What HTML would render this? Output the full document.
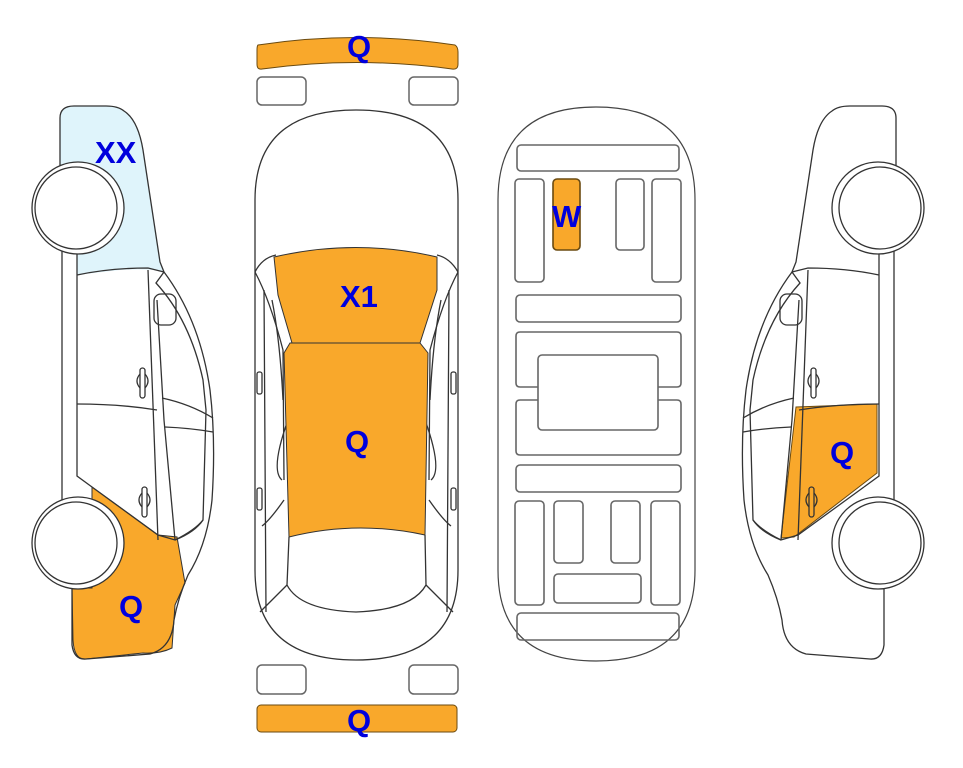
<!DOCTYPE html>
<html><head><meta charset="utf-8"><style>
html,body{margin:0;padding:0;background:#fff;}
svg{display:block;}
text{font-family:"Liberation Sans",Arial,sans-serif;font-weight:bold;fill:#0000dd;font-size:31px;}
</style></head><body>
<svg width="963" height="768" viewBox="0 0 963 768" xmlns="http://www.w3.org/2000/svg">
<defs>
<g id="side" fill="none" stroke="#333" stroke-width="1.3">
  <path d="M60 118 Q60 106 74 106 L106 106 Q118 106 124 111 Q138 120 143 150 Q152 210 160 262 L164 272 Q200 320 210 390 Q216 440 212 500 Q207 545 188 575 Q178 598 174 620 Q172 648 150 654 L86 659 Q74 660 72 645 L72 588"/>
  <path d="M60 118 L60 166"/>
  <path d="M62 250 L62 500"/>
  <path d="M77 252 L77 275 L77 476 L92 487"/>
  <path d="M77 275 Q110 268 148 268 L164 272"/>
  <path d="M148 270 L158 540"/>
  <path d="M157 300 L164 420 L175 540"/>
  <path d="M164 272 L156 283 Q190 320 203 380 L206 410 L203 520 Q195 530 175 540"/>
  <path d="M77 404 Q120 404 157 410"/>
  <path d="M162 398 Q190 404 213 418"/>
  <path d="M165 427 Q190 428 213 432"/>
  <path d="M92 487 L158 535 L175 540 Q195 532 203 520"/>
  <rect x="154" y="294" width="22" height="31" rx="7"/>
  <rect x="140" y="368" width="5" height="30" rx="2.5"/>
  <path d="M140 374 Q134 381 140 388 M145 374 Q151 381 145 388"/>
  <rect x="142" y="487" width="5" height="30" rx="2.5"/>
  <path d="M142 493 Q136 500 142 507 M147 493 Q153 500 147 507"/>
</g>
</defs>

<path d="M60 118 Q60 106 74 106 L106 106 Q118 106 124 111 Q138 120 143 150 Q152 210 160 262 L164 272 Q150 268 120 270 L77 275 L77 165 L60 165 Z" fill="#dff4fb"/>
<path d="M92 487 L158 535 L177 537 L185 583 L175 605 L172 648 Q160 654 143 653 L86 659 Q74 660 73 640 L72 588 L92 588 Z" fill="#f9a82b" stroke="#333" stroke-width="1"/>
<use href="#side"/>
<circle cx="78" cy="208" r="46" fill="#fff" stroke="#333" stroke-width="1.3"/>
<circle cx="76" cy="208" r="41" fill="#fff" stroke="#333" stroke-width="1.3"/>
<circle cx="78" cy="543" r="46" fill="#fff" stroke="#333" stroke-width="1.3"/>
<circle cx="76" cy="543" r="41" fill="#fff" stroke="#333" stroke-width="1.3"/>
<text x="95" y="163">XX</text>
<text x="119" y="617">Q</text>

<path d="M796 407 L877 404 L877 473 L794 537 L781 538 Z" fill="#f9a82b" stroke="#6a4a10" stroke-width="1"/>
<g transform="translate(956,0) scale(-1,1)">
  <use href="#side"/>
  <circle cx="78" cy="208" r="46" fill="#fff" stroke="#333" stroke-width="1.3"/>
  <circle cx="76" cy="208" r="41" fill="#fff" stroke="#333" stroke-width="1.3"/>
  <circle cx="78" cy="543" r="46" fill="#fff" stroke="#333" stroke-width="1.3"/>
  <circle cx="76" cy="543" r="41" fill="#fff" stroke="#333" stroke-width="1.3"/>
</g>
<text x="830" y="463">Q</text>

<g fill="none" stroke="#666" stroke-width="1.5">
  <path d="M258 45 Q356 30 455 45 Q458 47 458 52 L458 64 Q458 70 452 69 Q356 56 262 69 Q257 70 257 64 L257 50 Q257 46 258 45 Z" fill="#f9a82b" stroke="#6a4a10" stroke-width="1"/>
  <rect x="257" y="77" width="49" height="28" rx="5"/>
  <rect x="409" y="77" width="49" height="28" rx="5"/>
  <rect x="257" y="665" width="49" height="29" rx="5"/>
  <rect x="409" y="665" width="49" height="29" rx="5"/>
  <rect x="257" y="705" width="200" height="27" rx="4" fill="#f9a82b" stroke="#6a4a10" stroke-width="1"/>
</g>
<g fill="none" stroke="#333" stroke-width="1.3">
  <path d="M255 200 Q255 110 356 110 Q458 110 458 200 L458 570 Q458 660 356 660 Q255 660 255 570 Z"/>
  <path d="M255 272 Q262 258 276 255 M458 272 Q450 258 437 255"/>
  <path d="M255 272 Q270 300 283 350 L284 480 M458 272 Q443 300 430 350 L429 480"/>
  <path d="M264 290 L266 612 M449 290 L447 612"/>
  <path d="M272 300 Q280 340 283 400 M441 300 Q433 340 430 400"/>
  <path d="M287 585 Q272 600 260 612 M426 585 Q441 600 453 612"/>
  <path d="M289 537 L287 585 Q300 610 356 612 Q412 610 426 585 L425 535"/>
  <path d="M284 500 Q270 520 262 526 M429 500 Q443 520 451 526"/>
  <path d="M288 420 Q270 470 282 480 M425 420 Q443 470 431 480"/>
  <rect x="257" y="372" width="5" height="22" rx="2"/>
  <rect x="451" y="372" width="5" height="22" rx="2"/>
  <rect x="257" y="488" width="5" height="22" rx="2"/>
  <rect x="451" y="488" width="5" height="22" rx="2"/>
</g>
<path d="M274 257 Q356 238 437 257 L437 290 L420 343 L292 343 L278 295 Z" fill="#f9a82b" stroke="#333" stroke-width="1"/>
<path d="M290 343 L420 343 L428 353 L425 535 Q356 520 289 537 L284 353 Z" fill="#f9a82b" stroke="#333" stroke-width="1"/>
<text x="340" y="307">X1</text>
<text x="345" y="452">Q</text>
<text x="347" y="57">Q</text>
<text x="347" y="731">Q</text>

<g fill="none" stroke="#666" stroke-width="1.6">
  <path d="M498 200 Q498 107 596 107 Q695 107 695 200 L695 570 Q695 661 596 661 Q498 661 498 570 Z" stroke="#444" stroke-width="1.2"/>
  <rect x="517" y="145" width="162" height="26" rx="4"/>
  <rect x="515" y="179" width="29" height="103" rx="4"/>
  <rect x="553" y="179" width="27" height="71" rx="4" fill="#f9a82b" stroke="#6a4a10"/>
  <rect x="616" y="179" width="28" height="71" rx="4"/>
  <rect x="652" y="179" width="29" height="103" rx="4"/>
  <rect x="516" y="295" width="165" height="27" rx="4"/>
  <path d="M538 387 L520 387 Q516 387 516 383 L516 336 Q516 332 520 332 L677 332 Q681 332 681 336 L681 383 Q681 387 677 387 L658 387"/>
  <path d="M538 400 L520 400 Q516 400 516 404 L516 451 Q516 455 520 455 L677 455 Q681 455 681 451 L681 404 Q681 400 677 400 L658 400"/>
  <rect x="538" y="355" width="120" height="75" rx="4"/>
  <rect x="516" y="465" width="165" height="27" rx="4"/>
  <rect x="515" y="501" width="29" height="104" rx="4"/>
  <rect x="554" y="501" width="29" height="62" rx="4"/>
  <rect x="611" y="501" width="29" height="62" rx="4"/>
  <rect x="651" y="501" width="29" height="104" rx="4"/>
  <rect x="554" y="574" width="87" height="29" rx="4"/>
  <rect x="517" y="613" width="162" height="27" rx="4"/>
</g>
<text x="552" y="227">W</text>
</svg>
</body></html>
